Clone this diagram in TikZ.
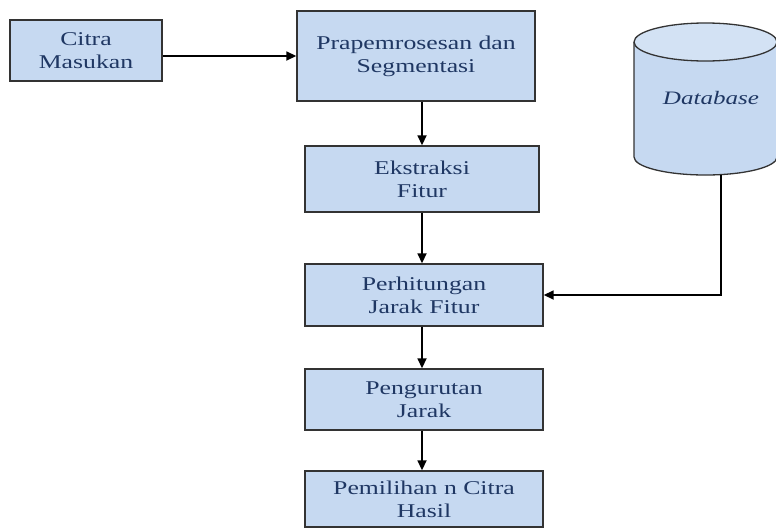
\documentclass[tikz,border=0pt]{standalone}
\usepackage{fontspec}
\setmainfont{Liberation Serif}[FakeStretch=1.32]
\usepackage{xcolor}
\usetikzlibrary{positioning,arrows.meta,calc}
\definecolor{boxfill}{HTML}{C6D9F1}
\definecolor{dbtopfill}{HTML}{D3E2F4}
\definecolor{navytext}{HTML}{1F3763}
\definecolor{boxline}{HTML}{333333}

\begin{document}
\begin{tikzpicture}[x=1pt, y=1pt,
  box/.style={draw=boxline, line width=1.4pt, fill=boxfill, align=center,
              font=\fontsize{19.5}{23}\selectfont, text=navytext, inner sep=0pt},
  arr/.style={-{Triangle[length=10pt, width=9pt]}, line width=1.7pt, black},
  dbshape/.style={draw=boxline, line width=1.3pt},
]
\useasboundingbox (0,0) rectangle (776,-528);

% input and preprocessing
\node[box, minimum width=152pt, minimum height=61pt] (citra) at (86,-50.5) {Citra\\Masukan};
\node[box, minimum width=238pt, minimum height=90pt] (prap) at (416,-56) {Prapemrosesan dan\\Segmentasi};

% processing chain
\node[box, minimum width=234pt, minimum height=66pt] (ekstr) at (422,-179) {Ekstraksi\\Fitur};
\node[box, minimum width=238pt, minimum height=62pt] (perh) at (424,-295) {Perhitungan\\Jarak Fitur};
\node[box, minimum width=238pt, minimum height=61pt] (peng) at (424,-399.5) {Pengurutan\\Jarak};
\node[box, minimum width=238pt, minimum height=56pt] (pemil) at (424,-499) {Pemilihan n Citra\\Hasil};

% database cylinder
\fill[boxfill] (634,-42) rectangle (777,-157);
\fill[boxfill] (705.5,-157) ellipse (71.5pt and 18pt);
\draw[dbshape] (634,-42) -- (634,-157) arc[start angle=180, end angle=360, x radius=71.5pt, y radius=18pt] -- (777,-42);
\filldraw[dbshape, fill=dbtopfill] (705.5,-42) ellipse (71.5pt and 19pt);
\node[font=\fontsize{19}{22}\selectfont\itshape, text=navytext] (db) at (711,-98) {Database};
\coordinate (dbout) at (721,-174.5);

% connectors
\draw[arr] (citra.east |- prap.west) -- (prap.west);
\draw[arr] (prap.south -| ekstr.north) -- (ekstr.north);
\draw[arr] (ekstr.south) -- (ekstr.south |- perh.north);
\draw[arr] (perh.south -| ekstr.south) -- (peng.north -| ekstr.south);
\draw[arr] (peng.south -| ekstr.south) -- (pemil.north -| ekstr.south);
\draw[arr] (dbout) |- (perh.east);
\end{tikzpicture}
\end{document}
